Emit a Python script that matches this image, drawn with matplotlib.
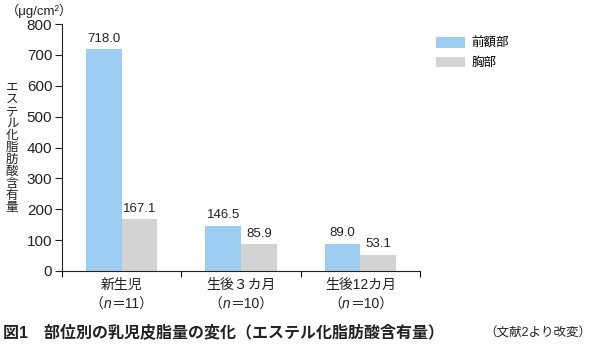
import matplotlib
matplotlib.use("Agg")
import matplotlib.pyplot as plt
import numpy as np
from matplotlib.patches import Patch
from matplotlib.offsetbox import TextArea, HPacker, AnnotationBbox

plt.rcParams['font.family'] = ['Liberation Sans', 'Noto Sans CJK JP', 'DejaVu Sans']

categories = ["新生児", "生後３カ月", "生後12カ月"]
sample_n = [11, 10, 10]
forehead = [718.0, 146.5, 89.0]
chest = [167.1, 85.9, 53.1]
series_names = ["前額部", "胸部"]
yticks = [0, 100, 200, 300, 400, 500, 600, 700, 800]

c_blue = "#9DCEF2"
c_gray = "#D3D3D3"
tc = "#222222"

fig = plt.figure(figsize=(5.95, 3.53), dpi=100)
ax = fig.add_axes([62/595, 82/353, (420-62)/595, (271-24)/353])

x = np.arange(len(categories))
w = 0.30
b1 = ax.bar(x - w/2, forehead, w, color=c_blue)
b2 = ax.bar(x + w/2, chest, w, color=c_gray)
for bars, vals in ((b1, forehead), (b2, chest)):
    for r, v in zip(bars, vals):
        ax.text(r.get_x() + r.get_width()/2, v + 14, f"{v:.1f}", ha="center", va="bottom",
                fontsize=9.5, color=tc)

ax.set_xlim(-0.5, 2.5)
ax.set_ylim(0, 800)
ax.set_yticks(yticks)
ax.tick_params(axis="y", labelsize=11, length=5, width=0.8, direction="out", pad=2, colors=tc)
ax.set_xticks([-0.5, 0.5, 1.5, 2.5])
ax.set_xticklabels([])
ax.set_xticks(x, minor=True)
ax.set_xticklabels(categories, minor=True, fontsize=10, color=tc)
ax.tick_params(axis="x", which="major", length=4, width=0.8, direction="out")
ax.tick_params(axis="x", which="minor", length=0, pad=5)
for s in ("top", "right"):
    ax.spines[s].set_visible(False)
for s in ("left", "bottom"):
    ax.spines[s].set_linewidth(0.8)
    ax.spines[s].set_color(tc)

for xi, n in zip(x, sample_n):
    tp = dict(fontsize=10, color=tc)
    pack = HPacker(children=[TextArea("（", textprops=tp),
                             TextArea("n", textprops=dict(tp, fontstyle="italic")),
                             TextArea(f"＝{n}）", textprops=tp)], sep=0, pad=0, align="baseline")
    ab = AnnotationBbox(pack, (xi, 0), xycoords=("data", "axes fraction"), xybox=(0, -19),
                        boxcoords="offset points", frameon=False, box_alignment=(0.5, 1), pad=0)
    ax.add_artist(ab)

fig.text(6/595, 1 - 11/353, "（μg/cm²）", fontsize=9.5, ha="left", va="center", color=tc)
fig.text(12/595, 1 - 148/353, "\n".join("エステル化脂肪酸含有量"), fontsize=9, ha="center", va="center",
         linespacing=1.0, color=tc)

handles = [Patch(facecolor=c_blue), Patch(facecolor=c_gray)]
fig.legend(handles, series_names, loc="upper left", bbox_to_anchor=(425/595, 1 - 26/353), frameon=False,
           fontsize=9, handlelength=2.3, handleheight=0.9, handletextpad=0.5, labelspacing=0.55)

fig.text(3/595, 1 - 333/353, "図1　部位別の乳児皮脂量の変化（エステル化脂肪酸含有量）", fontsize=11.5,
         fontweight="bold", ha="left", va="center", color=tc)
fig.text(591/595, 1 - 334/353, "（文献2より改変）", fontsize=9, ha="right", va="center", color=tc)

fig.savefig("out.png", dpi=100)
